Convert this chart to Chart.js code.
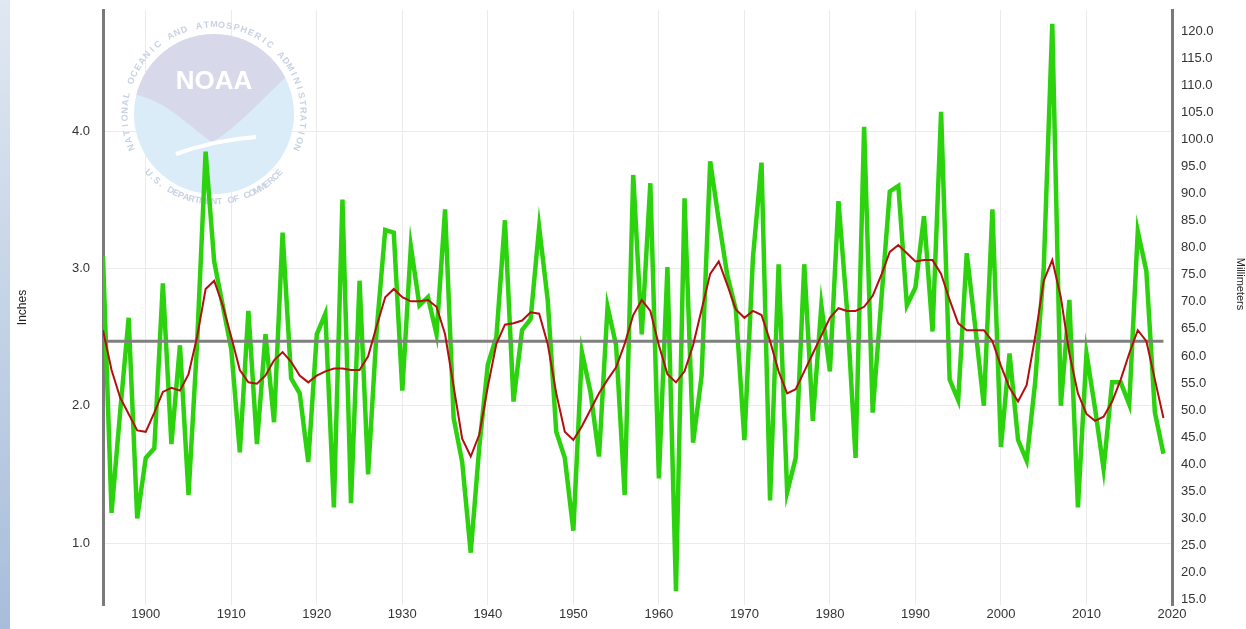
<!DOCTYPE html>
<html>
<head>
<meta charset="utf-8">
<script src="https://cdn.jsdelivr.net/npm/chart.js@4.4.0/dist/chart.umd.min.js"></script>
<style>
  html, body { margin: 0; padding: 0; background: #fff; }
  #wrap { position: relative; width: 1246px; height: 629px; overflow: hidden; }
  #strip { position: absolute; left: 0; top: 0; width: 10px; height: 629px;
           background: linear-gradient(#e0e8f2, #a8bddb); }
  #chart { position: absolute; left: 0; top: 0; }
</style>
</head>
<body>
<div id="wrap">
  <div id="strip"></div>
  <canvas id="chart" width="1246" height="629"></canvas>
</div>
<script>
/* yearly values, inches, 1895 - 2019 */
const FIRST_YEAR = 1895;

const precipInches = [
  3.09, 1.22, 1.95, 2.64, 1.18,
  1.62, 1.69, 2.89, 1.72, 2.44, 1.35, 2.45, 3.85, 3.05, 2.73,
  2.41, 1.66, 2.69, 1.72, 2.52, 1.88, 3.26, 2.20, 2.09, 1.59,
  2.52, 2.67, 1.26, 3.50, 1.29, 2.91, 1.50, 2.55, 3.28, 3.26,
  2.11, 3.16, 2.73, 2.79, 2.52, 3.43, 1.91, 1.59, 0.93, 1.70,
  2.30, 2.50, 3.35, 2.03, 2.55, 2.63, 3.30, 2.77, 1.81, 1.62,
  1.09, 2.39, 2.10, 1.63, 2.72, 2.44, 1.35, 3.68, 2.52, 3.62,
  1.47, 3.01, 0.65, 3.51, 1.73, 2.22, 3.78, 3.35, 2.95, 2.70,
  1.75, 3.08, 3.77, 1.31, 3.03, 1.37, 1.62, 3.03, 1.89, 2.73,
  2.25, 3.49, 2.70, 1.62, 4.03, 1.95, 2.76, 3.56, 3.60, 2.73,
  2.86, 3.38, 2.54, 4.14, 2.19, 2.04, 3.11, 2.57, 2.00, 3.43,
  1.70, 2.38, 1.75, 1.60, 2.17, 3.00, 4.78, 2.00, 2.77, 1.26,
  2.38, 1.98, 1.54, 2.17, 2.17, 2.01, 3.27, 2.98, 1.95, 1.65
];

/* smoothed curve (red) */
const smoothInches = [
  2.55, 2.26, 2.06, 1.94, 1.82,
  1.81, 1.95, 2.10, 2.13, 2.11, 2.23, 2.50, 2.85, 2.91, 2.73,
  2.50, 2.26, 2.17, 2.16, 2.22, 2.33, 2.39, 2.32, 2.22, 2.17,
  2.22, 2.25, 2.27, 2.27, 2.26, 2.26, 2.36, 2.58, 2.79, 2.85,
  2.79, 2.76, 2.76, 2.77, 2.72, 2.52, 2.14, 1.76, 1.63, 1.79,
  2.14, 2.45, 2.59, 2.60, 2.62, 2.68, 2.67, 2.45, 2.09, 1.81,
  1.75, 1.85, 1.97, 2.09, 2.19, 2.28, 2.45, 2.66, 2.77, 2.69,
  2.44, 2.23, 2.17, 2.25, 2.44, 2.70, 2.96, 3.05, 2.88, 2.70,
  2.64, 2.69, 2.66, 2.47, 2.25, 2.09, 2.12, 2.25, 2.38, 2.51,
  2.64, 2.71, 2.69, 2.69, 2.72, 2.80, 2.95, 3.12, 3.17, 3.11,
  3.05, 3.06, 3.06, 2.96, 2.77, 2.60, 2.55, 2.55, 2.55, 2.47,
  2.29, 2.13, 2.03, 2.15, 2.50, 2.91, 3.06, 2.79, 2.38, 2.09,
  1.94, 1.89, 1.92, 2.03, 2.19, 2.38, 2.55, 2.47, 2.19, 1.91
];

const MEAN_INCHES = 2.47;
const LAST_YEAR = 2019;

const yearTicks = [1900, 1910, 1920, 1930, 1940, 1950, 1960, 1970, 1980, 1990, 2000, 2010, 2020];
const inchTicks = [1, 2, 3, 4];
const mmTicks = [15, 20, 25, 30, 35, 40, 45, 50, 55, 60, 65, 70, 75, 80, 85, 90, 95, 100, 105, 110, 115, 120];

const MM_PER_INCH = 25.4;
const Y_MIN = 0.549;
const Y_MAX = 4.881;

const FONT = '"Liberation Sans", Arial, sans-serif';

const toPoints = arr => arr.map((v, i) => ({ x: FIRST_YEAR + i, y: v }));

/* faint NOAA watermark behind the lines */
const noaaLogo = {
  id: 'noaaLogo',
  beforeDatasetsDraw(chart) {
    const ctx = chart.ctx;
    const cx = 214, cy = 114, r = 80;
    ctx.save();
    ctx.beginPath();
    ctx.arc(cx, cy, r, 0, Math.PI * 2);
    ctx.fillStyle = '#d9ecf8';
    ctx.fill();
    ctx.save();
    ctx.clip();
    ctx.beginPath();
    ctx.moveTo(130, 94);
    ctx.bezierCurveTo(165, 98, 190, 128, 212, 142);
    ctx.bezierCurveTo(238, 128, 262, 98, 296, 68);
    ctx.lineTo(300, 20);
    ctx.lineTo(130, 20);
    ctx.closePath();
    ctx.fillStyle = '#d8d8eb';
    ctx.fill();
    ctx.restore();
    ctx.beginPath();
    ctx.moveTo(176, 154);
    ctx.quadraticCurveTo(215, 140, 256, 137);
    ctx.strokeStyle = '#ffffff';
    ctx.lineWidth = 4;
    ctx.stroke();
    ctx.fillStyle = '#ffffff';
    ctx.font = 'bold 26px ' + FONT;
    ctx.textAlign = 'center';
    ctx.textBaseline = 'middle';
    ctx.fillText('NOAA', cx, 82);

    ctx.fillStyle = '#c8d2e3';
    ctx.font = 'bold 9px ' + FONT;
    const top = 'NATIONAL OCEANIC AND ATMOSPHERIC ADMINISTRATION';
    const a0 = -112 * Math.PI / 180, a1 = 112 * Math.PI / 180;
    for (let i = 0; i < top.length; i++) {
      const a = a0 + (a1 - a0) * i / (top.length - 1);
      ctx.save();
      ctx.translate(cx + 89 * Math.sin(a), cy - 89 * Math.cos(a));
      ctx.rotate(a);
      ctx.fillText(top[i], 0, 0);
      ctx.restore();
    }
    const bottom = 'U.S. DEPARTMENT OF COMMERCE';
    const b0 = 228 * Math.PI / 180, b1 = 132 * Math.PI / 180;
    for (let i = 0; i < bottom.length; i++) {
      const a = b0 + (b1 - b0) * i / (bottom.length - 1);
      ctx.save();
      ctx.translate(cx + 88 * Math.sin(a), cy - 88 * Math.cos(a));
      ctx.rotate(a - Math.PI);
      ctx.fillText(bottom[i], 0, 0);
      ctx.restore();
    }
    ctx.restore();
  },
  afterDraw(chart) {
    // right axis title sits above the middle in the original
    const ctx = chart.ctx;
    ctx.save();
    ctx.translate(1240, 284);
    ctx.rotate(Math.PI / 2);
    ctx.fillStyle = '#222';
    ctx.font = '11px ' + FONT;
    ctx.textAlign = 'center';
    ctx.textBaseline = 'middle';
    ctx.fillText('Millimeters', 0, 0);
    ctx.restore();
  }
};

const tickFont = { family: FONT, size: 13 };

const fitVertical = width => s => {
  s.width = width;
  s.paddingTop = 0;
  s.paddingBottom = 0;
};

const config = {
  type: 'line',
  data: {
    datasets: [
      {
        label: 'Smoothed',
        data: toPoints(smoothInches),
        borderColor: '#b30f0f',
        borderWidth: 2,
        pointRadius: 0,
        tension: 0
      },
      {
        label: 'Mean',
        data: [{ x: FIRST_YEAR, y: MEAN_INCHES }, { x: LAST_YEAR, y: MEAN_INCHES }],
        borderColor: '#7f7f7f',
        borderWidth: 3,
        pointRadius: 0
      },
      {
        label: 'Precipitation',
        data: toPoints(precipInches),
        borderColor: '#2dd20f',
        borderWidth: 4.5,
        pointRadius: 0,
        tension: 0
      }
    ]
  },
  options: {
    responsive: false,
    animation: false,
    layout: { padding: { top: 10, left: 0, right: 0, bottom: 0 } },
    plugins: {
      legend: { display: false },
      tooltip: { enabled: false }
    },
    scales: {
      x: {
        type: 'linear',
        min: FIRST_YEAR,
        max: 2020,
        afterBuildTicks: s => { s.ticks = yearTicks.map(v => ({ value: v })); },
        afterFit: s => { s.height = 24; s.paddingLeft = 0; s.paddingRight = 0; },
        grid: { color: '#ebebeb', drawTicks: false },
        border: { display: false },
        ticks: {
          color: '#333',
          font: tickFont,
          padding: 2,
          maxRotation: 0,
          autoSkip: false,
          callback: v => String(v)
        }
      },
      y: {
        position: 'left',
        min: Y_MIN,
        max: Y_MAX,
        afterBuildTicks: s => { s.ticks = inchTicks.map(v => ({ value: v })); },
        afterFit: fitVertical(103),
        grid: { color: '#ebebeb', drawTicks: false },
        border: { color: '#7a7a7a', width: 3 },
        ticks: {
          color: '#333',
          font: tickFont,
          padding: 13,
          callback: v => v.toFixed(1)
        },
        title: {
          display: true,
          text: 'Inches',
          color: '#222',
          font: { family: FONT, size: 12 },
          padding: { top: 15, bottom: 0 }
        }
      },
      mm: {
        position: 'right',
        min: Y_MIN * MM_PER_INCH,
        max: Y_MAX * MM_PER_INCH,
        afterBuildTicks: s => { s.ticks = mmTicks.map(v => ({ value: v })); },
        afterFit: fitVertical(74),
        grid: { drawOnChartArea: false, drawTicks: false },
        border: { color: '#7a7a7a', width: 3 },
        ticks: {
          color: '#333',
          font: tickFont,
          padding: 9,
          callback: v => v.toFixed(1)
        }
      }
    }
  },
  plugins: [noaaLogo]
};

var myChart = new Chart(
  document.getElementById('chart'),
  config
);
</script>
</body>
</html>
